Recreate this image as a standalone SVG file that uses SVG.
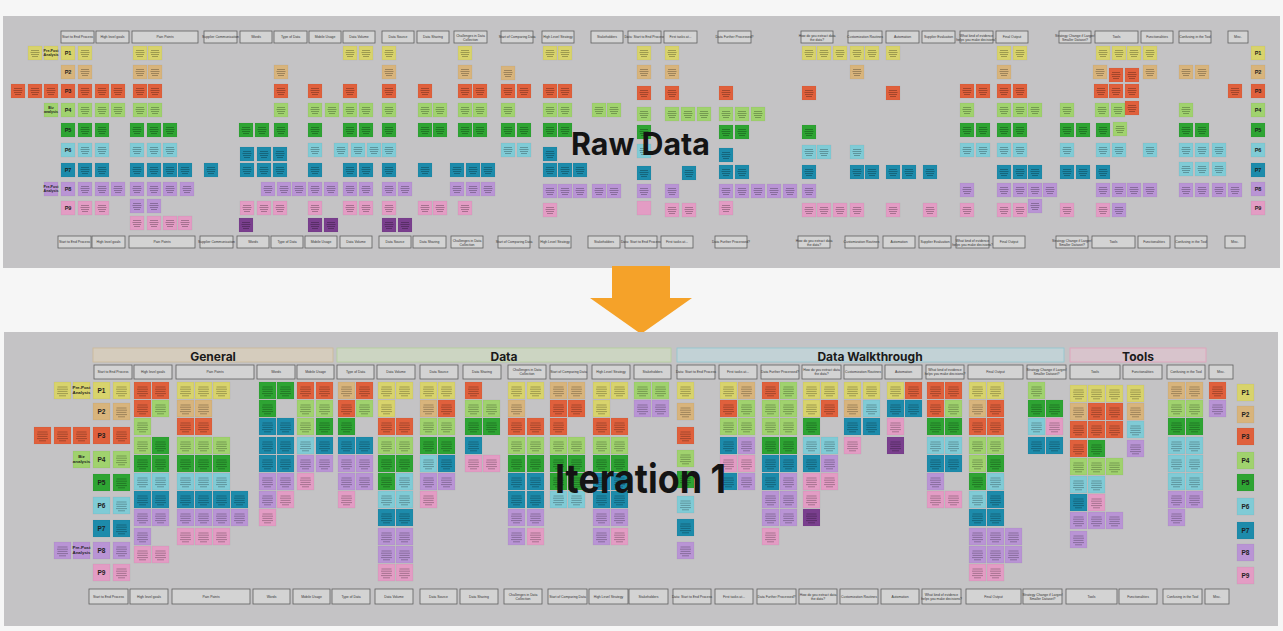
<svg xmlns="http://www.w3.org/2000/svg" xmlns:xlink="http://www.w3.org/1999/xlink" width="1283" height="631" viewBox="0 0 1283 631">
<style>
.Y{fill:#d8d36c}.T{fill:#d8b47c}.R{fill:#e0603c}.L{fill:#a0d26e}.G{fill:#2ea433}.B{fill:#80cbd6}.E{fill:#1d8bab}.V{fill:#b994d5}.K{fill:#e39cc4}.D{fill:#7a3f8e}
.h rect{fill:#d3d3d3;stroke:#5f5f5f;stroke-width:.8}
.h text{font-family:"Liberation Sans",Arial,sans-serif;font-size:3.4px;fill:#333;text-anchor:middle}
.pl{font-family:"Liberation Sans",Arial,sans-serif;font-weight:bold;fill:#1e1e1e;text-anchor:middle}
.nl{font-family:"Liberation Sans",Arial,sans-serif;font-weight:bold;fill:#1e1e1e;text-anchor:middle;font-size:3.6px}
.nb{font-family:"Liberation Sans",Arial,sans-serif;font-weight:bold;fill:#1e1e1e;text-anchor:middle;font-size:4.4px}
.big{font-family:Inter,"Noto Sans","Liberation Sans",sans-serif;font-weight:bold;fill:#141414}
.cat{font-family:Inter,"Noto Sans","Liberation Sans",sans-serif;font-weight:bold;fill:#1a1a1a;font-size:12px;text-anchor:middle}
</style>
<defs>
<g id="a"><rect width="14" height="14" stroke="#000" stroke-opacity=".08" stroke-width=".5"/><path d="M3 4.5h8M2.5 6.5h9M3 8.5h8M4 10.5h6" fill="none" stroke="#000" stroke-opacity=".3" stroke-width=".9"/></g>
<g id="c"><rect width="14" height="14" stroke="#000" stroke-opacity=".08" stroke-width=".5"/></g>
<g id="b"><rect width="17" height="17" stroke="#000" stroke-opacity=".08" stroke-width=".5"/><path d="M3.5 5h10M3 7.2h11M3.5 9.4h10M3 11.6h11M5 13.8h7" fill="none" stroke="#000" stroke-opacity=".3" stroke-width=".9"/></g>
<g id="d"><rect width="17" height="17" stroke="#000" stroke-opacity=".08" stroke-width=".5"/></g>
</defs>
<rect width="1283" height="631" fill="#f6f6f6"/>

<g id="top-panel">
<rect x="3" y="16" width="1277" height="252" fill="#c4c3c5"/>
</g>

<g id="top-headers" class="h">
<rect x="61" y="31" width="33" height="12"/><text x="77.5" y="38.3">Start to End Process</text>
<rect x="96" y="31" width="33" height="12"/><text x="112.5" y="38.3">High level goals</text>
<rect x="132" y="31" width="66" height="12"/><text x="165" y="38.3">Pain Points</text>
<rect x="204" y="31" width="33" height="12"/><text x="220.5" y="38.3">Supplier Communication</text>
<rect x="240" y="31" width="32" height="12"/><text x="256" y="38.3">Words</text>
<rect x="274" y="31" width="33" height="12"/><text x="290.5" y="38.3">Type of Data</text>
<rect x="309" y="31" width="32" height="12"/><text x="325" y="38.3">Mobile Usage</text>
<rect x="343" y="31" width="32" height="12"/><text x="359" y="38.3">Data Volume</text>
<rect x="382" y="31" width="32" height="12"/><text x="398" y="38.3">Data Source</text>
<rect x="417" y="31" width="32" height="12"/><text x="433" y="38.3">Data Sharing</text>
<rect x="454" y="31" width="33" height="12"/><text x="470.5" y="36.6">Challenges in Data<tspan x="470.5" dy="4">Collection</tspan></text>
<rect x="501" y="31" width="32" height="12"/><text x="517" y="38.3">Start of Comparing Data</text>
<rect x="542" y="31" width="32" height="12"/><text x="558" y="38.3">High Level Strategy</text>
<rect x="591" y="31" width="32" height="12"/><text x="607" y="38.3">Stakeholders</text>
<rect x="628" y="31" width="33" height="12"/><text x="644.5" y="38.3">Data: Start to End Process</text>
<rect x="664" y="31" width="33" height="12"/><text x="680.5" y="38.3">First tasks at...</text>
<rect x="718" y="31" width="33" height="12"/><text x="734.5" y="38.3">Data Further Processed?</text>
<rect x="801" y="31" width="32" height="12"/><text x="817" y="36.6">How do you extract data<tspan x="817" dy="4">the data?</tspan></text>
<rect x="848" y="31" width="34" height="12"/><text x="865" y="38.3">Customization Routines</text>
<rect x="886" y="31" width="33" height="12"/><text x="902.5" y="38.3">Automation</text>
<rect x="922" y="31" width="33" height="12"/><text x="938.5" y="38.3">Supplier Evaluation</text>
<rect x="960" y="31" width="33" height="12"/><text x="976.5" y="36.6">What kind of evidence<tspan x="976.5" dy="4">helps you make decisions?</tspan></text>
<rect x="996" y="31" width="32" height="12"/><text x="1012" y="38.3">Final Output</text>
<rect x="1059" y="31" width="32" height="12"/><text x="1075" y="36.6">Strategy Change if Larger/<tspan x="1075" dy="4">Smaller Dataset?</tspan></text>
<rect x="1095" y="31" width="43" height="12"/><text x="1116.5" y="38.3">Tools</text>
<rect x="1141" y="31" width="32" height="12"/><text x="1157" y="38.3">Functionalities</text>
<rect x="1179" y="31" width="32" height="12"/><text x="1195" y="38.3">Confusing in the Tool</text>
<rect x="1228" y="31" width="20" height="12"/><text x="1238" y="38.3">Misc.</text>

<rect x="58" y="236" width="33" height="12"/><text x="74.5" y="243.3">Start to End Process</text>
<rect x="92" y="236" width="33" height="12"/><text x="108.5" y="243.3">High level goals</text>
<rect x="129" y="236" width="66" height="12"/><text x="162" y="243.3">Pain Points</text>
<rect x="200" y="236" width="33" height="12"/><text x="216.5" y="243.3">Supplier Communication</text>
<rect x="237" y="236" width="32" height="12"/><text x="253" y="243.3">Words</text>
<rect x="271" y="236" width="32" height="12"/><text x="287" y="243.3">Type of Data</text>
<rect x="305" y="236" width="32" height="12"/><text x="321" y="243.3">Mobile Usage</text>
<rect x="340" y="236" width="32" height="12"/><text x="356" y="243.3">Data Volume</text>
<rect x="379" y="236" width="32" height="12"/><text x="395" y="243.3">Data Source</text>
<rect x="413" y="236" width="33" height="12"/><text x="429.5" y="243.3">Data Sharing</text>
<rect x="451" y="236" width="32" height="12"/><text x="467" y="241.6">Challenges in Data<tspan x="467" dy="4">Collection</tspan></text>
<rect x="498" y="236" width="32" height="12"/><text x="514" y="243.3">Start of Comparing Data</text>
<rect x="539" y="236" width="32" height="12"/><text x="555" y="243.3">High Level Strategy</text>
<rect x="588" y="236" width="32" height="12"/><text x="604" y="243.3">Stakeholders</text>
<rect x="625" y="236" width="32" height="12"/><text x="641" y="243.3">Data: Start to End Process</text>
<rect x="661" y="236" width="32" height="12"/><text x="677" y="243.3">First tasks at...</text>
<rect x="715" y="236" width="32" height="12"/><text x="731" y="243.3">Data Further Processed?</text>
<rect x="798" y="236" width="32" height="12"/><text x="814" y="241.6">How do you extract data<tspan x="814" dy="4">the data?</tspan></text>
<rect x="845" y="236" width="33" height="12"/><text x="861.5" y="243.3">Customization Routines</text>
<rect x="883" y="236" width="32" height="12"/><text x="899" y="243.3">Automation</text>
<rect x="919" y="236" width="32" height="12"/><text x="935" y="243.3">Supplier Evaluation</text>
<rect x="956" y="236" width="33" height="12"/><text x="972.5" y="241.6">What kind of evidence<tspan x="972.5" dy="4">helps you make decisions?</tspan></text>
<rect x="993" y="236" width="32" height="12"/><text x="1009" y="243.3">Final Output</text>
<rect x="1056" y="236" width="32" height="12"/><text x="1072" y="241.6">Strategy Change if Larger/<tspan x="1072" dy="4">Smaller Dataset?</tspan></text>
<rect x="1092" y="236" width="43" height="12"/><text x="1113.5" y="243.3">Tools</text>
<rect x="1138" y="236" width="32" height="12"/><text x="1154" y="243.3">Functionalities</text>
<rect x="1175" y="236" width="32" height="12"/><text x="1191" y="243.3">Confusing in the Tool</text>
<rect x="1225" y="236" width="20" height="12"/><text x="1235" y="243.3">Misc.</text>
</g>

<g id="top-notes">
<g transform="translate(0,46)">
<use href="#a" x="28" class="Y"/><use href="#c" x="44" class="Y"/><use href="#c" x="61" class="Y"/><use href="#a" x="78" class="Y"/><use href="#a" x="133" class="Y"/><use href="#a" x="148" class="Y"/><use href="#a" x="343" class="Y"/><use href="#a" x="359" class="Y"/><use href="#a" x="382" class="Y"/><use href="#a" x="458" class="Y"/><use href="#a" x="543" class="Y"/><use href="#a" x="558" class="Y"/><use href="#a" x="637" class="Y"/><use href="#a" x="665" class="Y"/><use href="#a" x="802" class="Y"/><use href="#a" x="817" class="Y"/><use href="#a" x="833" class="Y"/><use href="#a" x="850" class="Y"/><use href="#a" x="865" class="Y"/><use href="#a" x="886" class="Y"/><use href="#a" x="997" class="Y"/><use href="#a" x="1013" class="Y"/><use href="#a" x="1096" class="Y"/><use href="#a" x="1112" class="Y"/><use href="#a" x="1127" class="Y"/><use href="#a" x="1143" class="Y"/><use href="#c" x="1251" class="Y"/>
<text class="nl" x="51" y="6">Pre-Post<tspan x="51" dy="4">Analysis</tspan></text><text class="pl" x="68" y="9" font-size="5.5">P1</text><text class="pl" x="1258" y="9" font-size="5.5">P1</text>
</g>
<g transform="translate(0,65)">
<use href="#c" x="61" class="T"/><use href="#a" x="78" class="T"/><use href="#a" x="133" class="T"/><use href="#a" x="148" class="T"/><use href="#a" x="274" class="T"/><use href="#a" x="382" class="T"/><use href="#a" x="458" class="T"/><use href="#a" x="501" y="1" class="T"/><use href="#a" x="637" class="T"/><use href="#a" x="665" class="T"/><use href="#a" x="850" class="T"/><use href="#a" x="997" class="T"/><use href="#a" x="1093" class="T"/><use href="#a" x="1109" y="3" class="R"/><use href="#a" x="1125" y="3" class="R"/><use href="#a" x="1143" class="T"/><use href="#a" x="1179" class="T"/><use href="#a" x="1195" class="T"/><use href="#c" x="1251" class="T"/>
<text class="pl" x="68" y="9" font-size="5.5">P2</text><text class="pl" x="1258" y="9" font-size="5.5">P2</text>
</g>
<g transform="translate(0,84)">
<use href="#a" x="11" class="R"/><use href="#a" x="28" class="R"/><use href="#a" x="44" class="R"/><use href="#c" x="61" class="R"/><use href="#a" x="78" class="R"/><use href="#a" x="95" class="R"/><use href="#a" x="111" class="R"/><use href="#a" x="133" class="R"/><use href="#a" x="148" class="R"/><use href="#a" x="274" class="R"/><use href="#a" x="308" class="R"/><use href="#a" x="343" class="R"/><use href="#a" x="382" class="R"/><use href="#a" x="418" class="R"/><use href="#a" x="458" class="R"/><use href="#a" x="473" class="R"/><use href="#a" x="501" class="R"/><use href="#a" x="517" class="R"/><use href="#a" x="543" class="R"/><use href="#a" x="558" class="R"/><use href="#a" x="637" y="2" class="R"/><use href="#a" x="665" y="2" class="R"/><use href="#a" x="719" y="2" class="R"/><use href="#a" x="802" y="2" class="R"/><use href="#a" x="886" y="2" class="R"/><use href="#a" x="960" class="R"/><use href="#a" x="976" class="R"/><use href="#a" x="997" class="R"/><use href="#a" x="1013" class="R"/><use href="#a" x="1094" class="R"/><use href="#a" x="1109" class="R"/><use href="#a" x="1125" class="R"/><use href="#a" x="1228" class="R"/><use href="#c" x="1251" class="R"/>
<text class="pl" x="68" y="9" font-size="5.5">P3</text><text class="pl" x="1258" y="9" font-size="5.5">P3</text>
</g>
<g transform="translate(0,103)">
<use href="#c" x="44" class="L"/><use href="#c" x="61" class="L"/><use href="#a" x="78" class="L"/><use href="#a" x="95" class="L"/><use href="#a" x="111" class="L"/><use href="#a" x="133" class="L"/><use href="#a" x="148" class="L"/><use href="#a" x="274" class="L"/><use href="#a" x="308" class="L"/><use href="#a" x="325" class="L"/><use href="#a" x="343" class="L"/><use href="#a" x="359" class="L"/><use href="#a" x="382" class="L"/><use href="#a" x="418" class="L"/><use href="#a" x="433" class="L"/><use href="#a" x="458" class="L"/><use href="#a" x="473" class="L"/><use href="#a" x="501" class="L"/><use href="#a" x="543" class="L"/><use href="#a" x="558" class="L"/><use href="#a" x="592" class="L"/><use href="#a" x="607" class="L"/><use href="#a" x="637" y="4" class="L"/><use href="#a" x="665" y="4" class="L"/><use href="#a" x="681" y="4" class="L"/><use href="#a" x="697" y="4" class="L"/><use href="#a" x="719" y="4" class="L"/><use href="#a" x="735" y="4" class="L"/><use href="#a" x="751" y="4" class="L"/><use href="#a" x="960" class="L"/><use href="#a" x="997" class="L"/><use href="#a" x="1013" class="L"/><use href="#a" x="1028" class="L"/><use href="#a" x="1060" class="L"/><use href="#a" x="1095" class="L"/><use href="#a" x="1111" class="L"/><use href="#a" x="1125" y="-2" class="R"/><use href="#a" x="1179" class="L"/><use href="#c" x="1251" class="L"/>
<text class="nl" x="51" y="6">Biz<tspan x="51" dy="4">analysis</tspan></text><text class="pl" x="68" y="9" font-size="5.5">P4</text><text class="pl" x="1258" y="9" font-size="5.5">P4</text>
</g>
<g transform="translate(0,123)">
<use href="#c" x="61" class="G"/><use href="#a" x="78" class="G"/><use href="#a" x="95" class="G"/><use href="#a" x="130" class="G"/><use href="#a" x="147" class="G"/><use href="#a" x="163" class="G"/><use href="#a" x="239" class="G"/><use href="#a" x="255" class="G"/><use href="#a" x="274" class="G"/><use href="#a" x="308" class="G"/><use href="#a" x="343" class="G"/><use href="#a" x="359" class="G"/><use href="#a" x="382" class="G"/><use href="#a" x="418" class="G"/><use href="#a" x="433" class="G"/><use href="#a" x="458" class="G"/><use href="#a" x="473" class="G"/><use href="#a" x="501" class="G"/><use href="#a" x="517" class="G"/><use href="#a" x="543" class="G"/><use href="#a" x="558" class="G"/><use href="#a" x="637" y="2" class="G"/><use href="#a" x="719" y="2" class="G"/><use href="#a" x="735" y="2" class="G"/><use href="#a" x="802" y="2" class="G"/><use href="#a" x="960" class="G"/><use href="#a" x="976" class="G"/><use href="#a" x="997" class="G"/><use href="#a" x="1013" class="G"/><use href="#a" x="1060" class="G"/><use href="#a" x="1076" class="G"/><use href="#a" x="1096" class="G"/><use href="#a" x="1113" y="-1" class="L"/><use href="#a" x="1179" class="G"/><use href="#a" x="1195" class="G"/><use href="#c" x="1251" class="G"/>
<text class="pl" x="68" y="9" font-size="5.5">P5</text><text class="pl" x="1258" y="9" font-size="5.5">P5</text>
</g>
<g transform="translate(0,143)">
<use href="#c" x="61" class="B"/><use href="#a" x="78" class="B"/><use href="#a" x="95" class="B"/><use href="#a" x="130" class="B"/><use href="#a" x="147" class="B"/><use href="#a" x="163" class="B"/><use href="#a" x="240" y="4" class="E"/><use href="#a" x="257" y="4" class="E"/><use href="#a" x="273" y="4" class="E"/><use href="#a" x="308" class="B"/><use href="#a" x="334" class="B"/><use href="#a" x="351" class="B"/><use href="#a" x="367" class="B"/><use href="#a" x="382" class="B"/><use href="#a" x="501" class="B"/><use href="#a" x="517" class="B"/><use href="#a" x="543" y="4" class="E"/><use href="#a" x="637" y="1" class="B"/><use href="#a" x="719" y="5" class="E"/><use href="#a" x="802" y="2" class="B"/><use href="#a" x="817" y="2" class="B"/><use href="#a" x="850" y="2" class="B"/><use href="#a" x="960" class="B"/><use href="#a" x="976" class="B"/><use href="#a" x="997" class="B"/><use href="#a" x="1013" class="B"/><use href="#a" x="1060" class="B"/><use href="#a" x="1096" class="B"/><use href="#a" x="1112" class="B"/><use href="#a" x="1143" class="B"/><use href="#a" x="1179" class="B"/><use href="#a" x="1195" class="B"/><use href="#a" x="1212" class="B"/><use href="#c" x="1251" class="B"/>
<text class="pl" x="68" y="9" font-size="5.5">P6</text><text class="pl" x="1258" y="9" font-size="5.5">P6</text>
</g>
<g transform="translate(0,163)">
<use href="#c" x="61" class="E"/><use href="#a" x="78" class="E"/><use href="#a" x="95" class="E"/><use href="#a" x="130" class="E"/><use href="#a" x="147" class="E"/><use href="#a" x="163" class="E"/><use href="#a" x="178" class="E"/><use href="#a" x="204" class="E"/><use href="#a" x="240" class="E"/><use href="#a" x="257" class="E"/><use href="#a" x="273" class="E"/><use href="#a" x="308" class="E"/><use href="#a" x="343" class="E"/><use href="#a" x="359" class="E"/><use href="#a" x="382" class="E"/><use href="#a" x="418" class="E"/><use href="#a" x="450" class="E"/><use href="#a" x="466" class="E"/><use href="#a" x="481" class="E"/><use href="#a" x="543" class="E"/><use href="#a" x="558" class="E"/><use href="#a" x="573" class="E"/><use href="#a" x="637" y="3" class="E"/><use href="#a" x="682" y="3" class="E"/><use href="#a" x="719" y="2" class="E"/><use href="#a" x="735" y="2" class="E"/><use href="#a" x="802" y="2" class="E"/><use href="#a" x="850" y="2" class="E"/><use href="#a" x="865" y="2" class="E"/><use href="#a" x="886" y="2" class="E"/><use href="#a" x="902" y="2" class="E"/><use href="#a" x="923" y="2" class="E"/><use href="#a" x="997" y="2" class="E"/><use href="#a" x="1013" y="2" class="E"/><use href="#a" x="1028" y="2" class="E"/><use href="#a" x="1060" y="2" class="E"/><use href="#a" x="1076" y="2" class="E"/><use href="#a" x="1096" y="2" class="E"/><use href="#a" x="1179" y="-1" class="B"/><use href="#a" x="1195" y="-1" class="B"/><use href="#a" x="1212" y="-1" class="B"/><use href="#c" x="1251" class="E"/>
<text class="pl" x="68" y="9" font-size="5.5">P7</text><text class="pl" x="1258" y="9" font-size="5.5">P7</text>
</g>
<g transform="translate(0,182)">
<use href="#c" x="44" class="V"/><use href="#c" x="61" class="V"/><use href="#a" x="78" class="V"/><use href="#a" x="95" class="V"/><use href="#a" x="111" class="V"/><use href="#a" x="130" class="V"/><use href="#a" x="147" class="V"/><use href="#a" x="163" class="V"/><use href="#a" x="180" class="V"/><use href="#a" x="261" class="V"/><use href="#a" x="277" class="V"/><use href="#a" x="292" class="V"/><use href="#a" x="308" class="V"/><use href="#a" x="324" class="V"/><use href="#a" x="343" class="V"/><use href="#a" x="359" class="V"/><use href="#a" x="382" class="V"/><use href="#a" x="398" class="V"/><use href="#a" x="450" class="V"/><use href="#a" x="466" class="V"/><use href="#a" x="481" class="V"/><use href="#a" x="543" y="2" class="V"/><use href="#a" x="558" y="2" class="V"/><use href="#a" x="573" y="2" class="V"/><use href="#a" x="592" y="2" class="V"/><use href="#a" x="607" y="2" class="V"/><use href="#a" x="637" y="2" class="V"/><use href="#a" x="665" y="2" class="V"/><use href="#a" x="719" y="2" class="V"/><use href="#a" x="735" y="2" class="V"/><use href="#a" x="751" y="2" class="V"/><use href="#a" x="767" y="2" class="V"/><use href="#a" x="783" y="2" class="V"/><use href="#a" x="802" y="2" class="V"/><use href="#a" x="960" y="1" class="V"/><use href="#a" x="997" y="1" class="V"/><use href="#a" x="1013" y="1" class="V"/><use href="#a" x="1028" y="1" class="V"/><use href="#a" x="1043" y="1" class="V"/><use href="#a" x="1096" y="1" class="V"/><use href="#a" x="1112" y="1" class="V"/><use href="#a" x="1127" y="1" class="V"/><use href="#a" x="1143" y="1" class="V"/><use href="#a" x="1179" y="1" class="V"/><use href="#a" x="1195" y="1" class="V"/><use href="#a" x="1212" y="1" class="V"/><use href="#a" x="1228" y="1" class="V"/><use href="#c" x="1251" class="V"/>
<text class="nl" x="51" y="6">Pre-Post<tspan x="51" dy="4">Analysis</tspan></text><text class="pl" x="68" y="9" font-size="5.5">P8</text><text class="pl" x="1258" y="9" font-size="5.5">P8</text>
</g>
<g transform="translate(0,201)">
<use href="#c" x="61" class="K"/><use href="#a" x="78" class="K"/><use href="#a" x="95" class="K"/><use href="#a" x="130" y="-2" class="V"/><use href="#a" x="147" y="-2" class="V"/><use href="#a" x="240" class="K"/><use href="#a" x="257" class="K"/><use href="#a" x="273" class="K"/><use href="#a" x="308" class="K"/><use href="#a" x="343" class="K"/><use href="#a" x="359" class="K"/><use href="#a" x="382" class="K"/><use href="#a" x="418" class="K"/><use href="#a" x="433" class="K"/><use href="#a" x="458" class="K"/><use href="#a" x="543" y="2" class="K"/><use href="#c" x="637" class="K"/><use href="#a" x="665" y="2" class="K"/><use href="#a" x="682" y="2" class="K"/><use href="#a" x="719" class="K"/><use href="#a" x="802" y="2" class="K"/><use href="#a" x="817" y="2" class="K"/><use href="#a" x="833" y="2" class="K"/><use href="#a" x="850" y="2" class="K"/><use href="#a" x="886" y="2" class="K"/><use href="#a" x="923" y="2" class="K"/><use href="#a" x="960" y="2" class="K"/><use href="#a" x="997" y="2" class="K"/><use href="#a" x="1013" y="2" class="K"/><use href="#a" x="1028" y="-2" class="V"/><use href="#a" x="1060" y="2" class="K"/><use href="#a" x="1096" y="2" class="K"/><use href="#a" x="1112" y="2" class="V"/><use href="#c" x="1251" class="K"/>
<text class="pl" x="68" y="9" font-size="5.5">P9</text><text class="pl" x="1258" y="9" font-size="5.5">P9</text>
</g>
<g transform="translate(0,216)">
<use href="#a" x="130" class="K"/><use href="#a" x="147" class="K"/><use href="#a" x="163" class="K"/><use href="#a" x="178" class="K"/>
<use href="#a" x="239" y="2" class="D"/><use href="#a" x="308" y="2" class="D"/><use href="#a" x="324" y="2" class="D"/><use href="#a" x="382" y="2" class="D"/><use href="#a" x="398" y="2" class="D"/>
</g>
</g>
<text class="big" x="571" y="155" font-size="31" textLength="139" lengthAdjust="spacingAndGlyphs">Raw Data</text>

<g id="arrow">
<polygon points="612,266 670,266 670,298 692,298 641,334 590,298 612,298" fill="#f5a229"/>
</g>

<g id="bottom-panel">
<rect x="4" y="332" width="1274" height="294" fill="#c4c3c5"/>
<rect x="93" y="348" width="240" height="14" fill="#d5ccbd" stroke="#cbb897" stroke-width=".8"/>
<rect x="337" y="348" width="334" height="14" fill="#ccd5c2" stroke="#b3d09a" stroke-width=".8"/>
<rect x="677" y="348" width="387" height="14" fill="#c2d2d6" stroke="#8ec6d0" stroke-width=".8"/>
<rect x="1070" y="348" width="136" height="14" fill="#d8c4cc" stroke="#e39fba" stroke-width=".8"/>
<text class="cat" x="213" y="360.5">General</text>
<text class="cat" x="504" y="360.5">Data</text>
<text class="cat" x="870" y="360.5">Data Walkthrough</text>
<text class="cat" x="1138" y="360.5">Tools</text>
</g>

<g id="bottom-headers" class="h">
<rect x="94" y="365" width="38" height="14"/><text x="113" y="373.3">Start to End Process</text>
<rect x="134" y="365" width="38" height="14"/><text x="153" y="373.3">High level goals</text>
<rect x="176" y="365" width="78" height="14"/><text x="215" y="373.3">Pain Points</text>
<rect x="257" y="365" width="38" height="14"/><text x="276" y="373.3">Words</text>
<rect x="297" y="365" width="37" height="14"/><text x="315.5" y="373.3">Mobile Usage</text>
<rect x="337" y="365" width="37" height="14"/><text x="355.5" y="373.3">Type of Data</text>
<rect x="377" y="365" width="38" height="14"/><text x="396" y="373.3">Data Volume</text>
<rect x="420" y="365" width="38" height="14"/><text x="439" y="373.3">Data Source</text>
<rect x="463" y="365" width="38" height="14"/><text x="482" y="373.3">Data Sharing</text>
<rect x="508" y="365" width="38" height="14"/><text x="527" y="371.4">Challenges in Data<tspan x="527" dy="4">Collection</tspan></text>
<rect x="550" y="365" width="37" height="14"/><text x="568.5" y="373.3">Start of Comparing Data</text>
<rect x="592" y="365" width="38" height="14"/><text x="611" y="373.3">High Level Strategy</text>
<rect x="634" y="365" width="37" height="14"/><text x="652.5" y="373.3">Stakeholders</text>
<rect x="677" y="365" width="38" height="14"/><text x="696" y="373.3">Data: Start to End Process</text>
<rect x="719" y="365" width="38" height="14"/><text x="738" y="373.3">First tasks at...</text>
<rect x="761" y="365" width="38" height="14"/><text x="780" y="373.3">Data Further Processed?</text>
<rect x="802" y="365" width="39" height="14"/><text x="821.5" y="371.4">How do you extract data<tspan x="821.5" dy="4">the data?</tspan></text>
<rect x="844" y="365" width="38" height="14"/><text x="863" y="373.3">Customization Routines</text>
<rect x="885" y="365" width="37" height="14"/><text x="903.5" y="373.3">Automation</text>
<rect x="926" y="365" width="38" height="14"/><text x="945" y="371.4">What kind of evidence<tspan x="945" dy="4">helps you make decisions?</tspan></text>
<rect x="968" y="365" width="55" height="14"/><text x="995.5" y="373.3">Final Output</text>
<rect x="1027" y="365" width="39" height="14"/><text x="1046.5" y="371.4">Strategy Change if Larger/<tspan x="1046.5" dy="4">Smaller Dataset?</tspan></text>
<rect x="1070" y="365" width="50" height="14"/><text x="1095" y="373.3">Tools</text>
<rect x="1123" y="365" width="39" height="14"/><text x="1142.5" y="373.3">Functionalities</text>
<rect x="1167" y="365" width="38" height="14"/><text x="1186" y="373.3">Confusing in the Tool</text>
<rect x="1209" y="365" width="24" height="14"/><text x="1221" y="373.3">Misc.</text>

<rect x="89" y="589" width="39" height="15"/><text x="108.5" y="597.8">Start to End Process</text>
<rect x="130" y="589" width="38" height="15"/><text x="149" y="597.8">High level goals</text>
<rect x="172" y="589" width="78" height="15"/><text x="211" y="597.8">Pain Points</text>
<rect x="253" y="589" width="37" height="15"/><text x="271.5" y="597.8">Words</text>
<rect x="293" y="589" width="37" height="15"/><text x="311.5" y="597.8">Mobile Usage</text>
<rect x="332" y="589" width="38" height="15"/><text x="351" y="597.8">Type of Data</text>
<rect x="375" y="589" width="38" height="15"/><text x="394" y="597.8">Data Volume</text>
<rect x="420" y="589" width="37" height="15"/><text x="438.5" y="597.8">Data Source</text>
<rect x="460" y="589" width="38" height="15"/><text x="479" y="597.8">Data Sharing</text>
<rect x="504" y="589" width="38" height="15"/><text x="523" y="595.8">Challenges in Data<tspan x="523" dy="4">Collection</tspan></text>
<rect x="548" y="589" width="39" height="15"/><text x="567.5" y="597.8">Start of Comparing Data</text>
<rect x="589" y="589" width="39" height="15"/><text x="608.5" y="597.8">High Level Strategy</text>
<rect x="629" y="589" width="39" height="15"/><text x="648.5" y="597.8">Stakeholders</text>
<rect x="673" y="589" width="38" height="15"/><text x="692" y="597.8">Data: Start to End Process</text>
<rect x="715" y="589" width="38" height="15"/><text x="734" y="597.8">First tasks at...</text>
<rect x="757" y="589" width="39" height="15"/><text x="776.5" y="597.8">Data Further Processed?</text>
<rect x="799" y="589" width="38" height="15"/><text x="818" y="595.8">How do you extract data<tspan x="818" dy="4">the data?</tspan></text>
<rect x="840" y="589" width="38" height="15"/><text x="859" y="597.8">Customization Routines</text>
<rect x="881" y="589" width="38" height="15"/><text x="900" y="597.8">Automation</text>
<rect x="922" y="589" width="39" height="15"/><text x="941.5" y="595.8">What kind of evidence<tspan x="941.5" dy="4">helps you make decisions?</tspan></text>
<rect x="966" y="589" width="55" height="15"/><text x="993.5" y="597.8">Final Output</text>
<rect x="1023" y="589" width="39" height="15"/><text x="1042.5" y="595.8">Strategy Change if Larger/<tspan x="1042.5" dy="4">Smaller Dataset?</tspan></text>
<rect x="1066" y="589" width="51" height="15"/><text x="1091.5" y="597.8">Tools</text>
<rect x="1119" y="589" width="38" height="15"/><text x="1138" y="597.8">Functionalities</text>
<rect x="1163" y="589" width="39" height="15"/><text x="1182.5" y="597.8">Confusing in the Tool</text>
<rect x="1205" y="589" width="24" height="15"/><text x="1217" y="597.8">Misc.</text>
</g>

<g id="bottom-notes">
<g id="left-extras">
<use href="#b" x="54" y="382" class="Y"/><use href="#d" x="73" y="382" class="Y"/>
<use href="#b" x="34" y="427" class="R"/><use href="#b" x="54" y="427" class="R"/><use href="#b" x="73" y="427" class="R"/>
<use href="#d" x="73" y="451" class="L"/>
<use href="#b" x="54" y="542" class="V"/><use href="#d" x="73" y="542" class="V"/>
<text class="nb" x="81.5" y="389">Pre-Post<tspan x="81.5" dy="4.6">Analysis</tspan></text>
<text class="nb" x="81.5" y="458">Biz<tspan x="81.5" dy="4.6">analysis</tspan></text>
<text class="nb" x="81.5" y="549">Pre-Post<tspan x="81.5" dy="4.6">Analysis</tspan></text>
</g>
<g id="p-left">
<use href="#d" x="93" y="382" class="Y"/><use href="#d" x="93" y="403" class="T"/><use href="#d" x="93" y="427" class="R"/><use href="#d" x="93" y="451" class="L"/><use href="#d" x="93" y="474" class="G"/><use href="#d" x="93" y="497" class="B"/><use href="#d" x="93" y="520" class="E"/><use href="#d" x="93" y="542" class="V"/><use href="#d" x="93" y="564" class="K"/>
<text class="pl" font-size="6.5" x="101.5" y="393">P1</text><text class="pl" font-size="6.5" x="101.5" y="414">P2</text><text class="pl" font-size="6.5" x="101.5" y="438">P3</text><text class="pl" font-size="6.5" x="101.5" y="462">P4</text><text class="pl" font-size="6.5" x="101.5" y="485">P5</text><text class="pl" font-size="6.5" x="101.5" y="508">P6</text><text class="pl" font-size="6.5" x="101.5" y="531">P7</text><text class="pl" font-size="6.5" x="101.5" y="553">P8</text><text class="pl" font-size="6.5" x="101.5" y="575">P9</text>
</g>
<g id="p-right">
<use href="#d" x="1237" y="384" class="Y"/><use href="#d" x="1237" y="406" class="T"/><use href="#d" x="1237" y="428" class="R"/><use href="#d" x="1237" y="452" class="L"/><use href="#d" x="1237" y="474" class="G"/><use href="#d" x="1237" y="498" class="B"/><use href="#d" x="1237" y="522" class="E"/><use href="#d" x="1237" y="544" class="V"/><use href="#d" x="1237" y="567" class="K"/>
<text class="pl" font-size="6.5" x="1245.5" y="395">P1</text><text class="pl" font-size="6.5" x="1245.5" y="417">P2</text><text class="pl" font-size="6.5" x="1245.5" y="439">P3</text><text class="pl" font-size="6.5" x="1245.5" y="463">P4</text><text class="pl" font-size="6.5" x="1245.5" y="485">P5</text><text class="pl" font-size="6.5" x="1245.5" y="509">P6</text><text class="pl" font-size="6.5" x="1245.5" y="533">P7</text><text class="pl" font-size="6.5" x="1245.5" y="555">P8</text><text class="pl" font-size="6.5" x="1245.5" y="578">P9</text>
</g>
<g id="col-start">
<use href="#b" x="113" y="382" class="Y"/><use href="#b" x="113" y="403" class="T"/><use href="#b" x="113" y="427" class="R"/><use href="#b" x="113" y="451" class="L"/><use href="#b" x="113" y="474" class="G"/><use href="#b" x="113" y="497" class="B"/><use href="#b" x="113" y="520" class="E"/><use href="#b" x="113" y="542" class="V"/><use href="#b" x="113" y="564" class="K"/>
</g>
<g id="col-goals">
<use href="#b" x="134" y="382" class="R"/><use href="#b" x="134" y="400" class="R"/><use href="#b" x="134" y="418" class="L"/><use href="#b" x="134" y="437" class="L"/><use href="#b" x="134" y="455" class="G"/><use href="#b" x="134" y="473" class="B"/><use href="#b" x="134" y="491" class="E"/><use href="#b" x="134" y="509" class="V"/><use href="#b" x="134" y="528" class="V"/><use href="#b" x="134" y="546" class="K"/>
<use href="#b" x="152" y="382" class="R"/><use href="#b" x="152" y="400" class="L"/><use href="#b" x="152" y="437" class="G"/><use href="#b" x="152" y="455" class="G"/><use href="#b" x="152" y="473" class="B"/><use href="#b" x="152" y="491" class="E"/><use href="#b" x="152" y="509" class="V"/><use href="#b" x="152" y="546" class="K"/>
</g>
<g id="col-pain">
<use href="#b" x="177" y="382" class="Y"/><use href="#b" x="177" y="400" class="T"/><use href="#b" x="177" y="418" class="R"/><use href="#b" x="177" y="437" class="L"/><use href="#b" x="177" y="455" class="G"/><use href="#b" x="177" y="473" class="B"/><use href="#b" x="177" y="491" class="E"/><use href="#b" x="177" y="509" class="V"/><use href="#b" x="177" y="528" class="K"/>
<use href="#b" x="195" y="382" class="Y"/><use href="#b" x="195" y="400" class="T"/><use href="#b" x="195" y="418" class="R"/><use href="#b" x="195" y="437" class="L"/><use href="#b" x="195" y="455" class="G"/><use href="#b" x="195" y="473" class="B"/><use href="#b" x="195" y="491" class="E"/><use href="#b" x="195" y="509" class="V"/><use href="#b" x="195" y="528" class="K"/>
<use href="#b" x="213" y="382" class="Y"/><use href="#b" x="213" y="437" class="L"/><use href="#b" x="213" y="455" class="G"/><use href="#b" x="213" y="473" class="B"/><use href="#b" x="213" y="491" class="E"/><use href="#b" x="213" y="509" class="V"/><use href="#b" x="213" y="528" class="K"/>
<use href="#b" x="231" y="491" class="E"/><use href="#b" x="231" y="509" class="V"/>
</g>
<g id="col-words">
<use href="#b" x="259" y="382" class="G"/><use href="#b" x="259" y="400" class="G"/><use href="#b" x="259" y="418" class="E"/><use href="#b" x="259" y="437" class="E"/><use href="#b" x="259" y="455" class="E"/><use href="#b" x="259" y="473" class="V"/><use href="#b" x="259" y="491" class="V"/><use href="#b" x="259" y="509" class="K"/>
<use href="#b" x="277" y="382" class="G"/><use href="#b" x="277" y="418" class="E"/><use href="#b" x="277" y="437" class="E"/><use href="#b" x="277" y="455" class="E"/><use href="#b" x="277" y="473" class="V"/><use href="#b" x="277" y="491" class="K"/>
</g>
<g id="col-mobile">
<use href="#b" x="297" y="382" class="R"/><use href="#b" x="297" y="400" class="L"/><use href="#b" x="297" y="418" class="L"/><use href="#b" x="297" y="437" class="B"/><use href="#b" x="297" y="455" class="V"/><use href="#b" x="297" y="473" class="K"/>
<use href="#b" x="316" y="382" class="R"/><use href="#b" x="316" y="400" class="L"/><use href="#b" x="316" y="418" class="G"/><use href="#b" x="316" y="437" class="E"/><use href="#b" x="316" y="455" class="V"/>
</g>
<g id="col-type">
<use href="#b" x="338" y="382" class="T"/><use href="#b" x="338" y="400" class="R"/><use href="#b" x="338" y="418" class="G"/><use href="#b" x="338" y="437" class="E"/><use href="#b" x="338" y="455" class="V"/><use href="#b" x="338" y="473" class="V"/><use href="#b" x="338" y="491" class="K"/>
<use href="#b" x="356" y="382" class="R"/><use href="#b" x="356" y="400" class="L"/><use href="#b" x="356" y="437" class="E"/><use href="#b" x="356" y="455" class="V"/><use href="#b" x="356" y="473" class="V"/>
</g>
<g id="col-volume">
<use href="#b" x="378" y="382" class="Y"/><use href="#b" x="378" y="400" class="Y"/><use href="#b" x="378" y="418" class="R"/><use href="#b" x="378" y="437" class="L"/><use href="#b" x="378" y="455" class="G"/><use href="#b" x="378" y="473" class="G"/><use href="#b" x="378" y="491" class="B"/><use href="#b" x="378" y="509" class="E"/><use href="#b" x="378" y="528" class="V"/><use href="#b" x="378" y="546" class="V"/><use href="#b" x="378" y="564" class="K"/>
<use href="#b" x="396" y="382" class="Y"/><use href="#b" x="396" y="418" class="R"/><use href="#b" x="396" y="437" class="L"/><use href="#b" x="396" y="455" class="G"/><use href="#b" x="396" y="473" class="B"/><use href="#b" x="396" y="491" class="B"/><use href="#b" x="396" y="509" class="E"/><use href="#b" x="396" y="528" class="V"/><use href="#b" x="396" y="546" class="V"/><use href="#b" x="396" y="564" class="K"/>
</g>
<g id="col-source">
<use href="#b" x="420" y="382" class="Y"/><use href="#b" x="420" y="400" class="T"/><use href="#b" x="420" y="418" class="L"/><use href="#b" x="420" y="437" class="G"/><use href="#b" x="420" y="455" class="B"/><use href="#b" x="420" y="473" class="V"/><use href="#b" x="420" y="491" class="K"/>
<use href="#b" x="438" y="382" class="Y"/><use href="#b" x="438" y="400" class="R"/><use href="#b" x="438" y="418" class="L"/><use href="#b" x="438" y="437" class="G"/><use href="#b" x="438" y="455" class="E"/><use href="#b" x="438" y="473" class="V"/>
</g>
<g id="col-sharing">
<use href="#b" x="465" y="382" class="R"/><use href="#b" x="465" y="400" class="L"/><use href="#b" x="465" y="418" class="G"/><use href="#b" x="465" y="437" class="E"/><use href="#b" x="465" y="455" class="K"/>
<use href="#b" x="483" y="400" class="L"/><use href="#b" x="483" y="418" class="G"/><use href="#b" x="483" y="455" class="K"/>
</g>
<g id="col-challenges">
<use href="#b" x="508" y="382" class="Y"/><use href="#b" x="508" y="400" class="T"/><use href="#b" x="508" y="418" class="R"/><use href="#b" x="508" y="437" class="L"/><use href="#b" x="508" y="455" class="G"/><use href="#b" x="508" y="473" class="E"/><use href="#b" x="508" y="491" class="E"/><use href="#b" x="508" y="509" class="V"/><use href="#b" x="508" y="528" class="V"/>
<use href="#b" x="527" y="382" class="Y"/><use href="#b" x="527" y="418" class="R"/><use href="#b" x="527" y="437" class="L"/><use href="#b" x="527" y="455" class="G"/><use href="#b" x="527" y="473" class="E"/><use href="#b" x="527" y="491" class="E"/><use href="#b" x="527" y="509" class="V"/><use href="#b" x="527" y="528" class="K"/>
</g>
<g id="col-comparing">
<use href="#b" x="550" y="382" class="T"/><use href="#b" x="550" y="400" class="R"/><use href="#b" x="550" y="418" class="R"/><use href="#b" x="550" y="437" class="L"/><use href="#b" x="550" y="455" class="G"/><use href="#b" x="550" y="473" class="G"/><use href="#b" x="550" y="491" class="B"/>
<use href="#b" x="568" y="382" class="T"/><use href="#b" x="568" y="400" class="R"/><use href="#b" x="568" y="437" class="L"/><use href="#b" x="568" y="455" class="G"/><use href="#b" x="568" y="473" class="G"/><use href="#b" x="568" y="491" class="B"/>
</g>
<g id="col-strategy">
<use href="#b" x="593" y="382" class="Y"/><use href="#b" x="593" y="400" class="Y"/><use href="#b" x="593" y="418" class="R"/><use href="#b" x="593" y="437" class="L"/><use href="#b" x="593" y="455" class="G"/><use href="#b" x="593" y="473" class="E"/><use href="#b" x="593" y="491" class="E"/><use href="#b" x="593" y="509" class="V"/><use href="#b" x="593" y="528" class="V"/>
<use href="#b" x="611" y="382" class="Y"/><use href="#b" x="611" y="418" class="R"/><use href="#b" x="611" y="437" class="L"/><use href="#b" x="611" y="455" class="G"/><use href="#b" x="611" y="473" class="E"/><use href="#b" x="611" y="491" class="E"/><use href="#b" x="611" y="509" class="V"/><use href="#b" x="611" y="528" class="K"/>
</g>
<g id="col-stakeholders">
<use href="#b" x="634" y="382" class="L"/><use href="#b" x="634" y="400" class="V"/><use href="#b" x="652" y="382" class="L"/><use href="#b" x="652" y="400" class="V"/>
</g>
<g id="col-data-start">
<use href="#b" x="677" y="382" class="Y"/><use href="#b" x="677" y="403" class="T"/><use href="#b" x="677" y="427" class="R"/><use href="#b" x="677" y="450" class="L"/><use href="#b" x="677" y="471" class="G"/><use href="#b" x="677" y="496" class="B"/><use href="#b" x="677" y="519" class="E"/><use href="#b" x="677" y="542" class="V"/>
</g>
<g id="col-first">
<use href="#b" x="720" y="382" class="Y"/><use href="#b" x="720" y="400" class="R"/><use href="#b" x="720" y="418" class="L"/><use href="#b" x="720" y="437" class="E"/><use href="#b" x="720" y="455" class="K"/><use href="#b" x="720" y="473" class="E"/>
<use href="#b" x="738" y="382" class="T"/><use href="#b" x="738" y="400" class="L"/><use href="#b" x="738" y="418" class="L"/><use href="#b" x="738" y="437" class="V"/><use href="#b" x="738" y="455" class="K"/><use href="#b" x="738" y="473" class="V"/>
</g>
<g id="col-further">
<use href="#b" x="762" y="382" class="R"/><use href="#b" x="762" y="400" class="L"/><use href="#b" x="762" y="418" class="L"/><use href="#b" x="762" y="437" class="G"/><use href="#b" x="762" y="455" class="E"/><use href="#b" x="762" y="473" class="E"/><use href="#b" x="762" y="491" class="V"/><use href="#b" x="762" y="509" class="V"/><use href="#b" x="762" y="528" class="K"/>
<use href="#b" x="780" y="382" class="L"/><use href="#b" x="780" y="400" class="L"/><use href="#b" x="780" y="418" class="L"/><use href="#b" x="780" y="437" class="G"/><use href="#b" x="780" y="455" class="E"/><use href="#b" x="780" y="473" class="V"/><use href="#b" x="780" y="491" class="V"/><use href="#b" x="780" y="509" class="V"/>
</g>
<g id="col-extract">
<use href="#b" x="803" y="382" class="Y"/><use href="#b" x="803" y="400" class="Y"/><use href="#b" x="803" y="418" class="G"/><use href="#b" x="803" y="437" class="B"/><use href="#b" x="803" y="455" class="E"/><use href="#b" x="803" y="473" class="K"/><use href="#b" x="803" y="491" class="K"/><use href="#b" x="803" y="509" class="D"/>
<use href="#b" x="821" y="382" class="Y"/><use href="#b" x="821" y="400" class="R"/><use href="#b" x="821" y="437" class="B"/><use href="#b" x="821" y="455" class="V"/><use href="#b" x="821" y="473" class="K"/>
</g>
<g id="col-custom">
<use href="#b" x="844" y="382" class="Y"/><use href="#b" x="844" y="400" class="T"/><use href="#b" x="844" y="418" class="E"/><use href="#b" x="844" y="437" class="K"/>
<use href="#b" x="863" y="382" class="Y"/><use href="#b" x="863" y="400" class="B"/><use href="#b" x="863" y="418" class="E"/>
</g>
<g id="col-auto">
<use href="#b" x="887" y="382" class="Y"/><use href="#b" x="887" y="400" class="E"/><use href="#b" x="887" y="418" class="K"/><use href="#b" x="887" y="437" class="D"/>
<use href="#b" x="905" y="382" class="R"/><use href="#b" x="905" y="400" class="E"/>
</g>
<g id="col-evidence">
<use href="#b" x="927" y="382" class="R"/><use href="#b" x="927" y="400" class="R"/><use href="#b" x="927" y="418" class="G"/><use href="#b" x="927" y="437" class="B"/><use href="#b" x="927" y="455" class="E"/><use href="#b" x="927" y="473" class="V"/><use href="#b" x="927" y="491" class="K"/>
<use href="#b" x="945" y="382" class="R"/><use href="#b" x="945" y="400" class="L"/><use href="#b" x="945" y="418" class="G"/><use href="#b" x="945" y="437" class="B"/><use href="#b" x="945" y="455" class="E"/><use href="#b" x="945" y="491" class="K"/>
</g>
<g id="col-final">
<use href="#b" x="969" y="382" class="Y"/><use href="#b" x="969" y="400" class="T"/><use href="#b" x="969" y="418" class="R"/><use href="#b" x="969" y="437" class="L"/><use href="#b" x="969" y="455" class="L"/><use href="#b" x="969" y="473" class="G"/><use href="#b" x="969" y="491" class="B"/><use href="#b" x="969" y="509" class="E"/><use href="#b" x="969" y="528" class="V"/><use href="#b" x="969" y="546" class="V"/><use href="#b" x="969" y="564" class="K"/>
<use href="#b" x="987" y="382" class="Y"/><use href="#b" x="987" y="400" class="R"/><use href="#b" x="987" y="418" class="R"/><use href="#b" x="987" y="437" class="L"/><use href="#b" x="987" y="455" class="G"/><use href="#b" x="987" y="473" class="B"/><use href="#b" x="987" y="491" class="E"/><use href="#b" x="987" y="509" class="E"/><use href="#b" x="987" y="528" class="V"/><use href="#b" x="987" y="546" class="V"/><use href="#b" x="987" y="564" class="K"/>
<use href="#b" x="1005" y="528" class="V"/><use href="#b" x="1005" y="546" class="V"/>
</g>
<g id="col-change">
<use href="#b" x="1028" y="382" class="L"/><use href="#b" x="1028" y="400" class="G"/><use href="#b" x="1028" y="418" class="B"/><use href="#b" x="1028" y="437" class="E"/>
<use href="#b" x="1046" y="400" class="G"/><use href="#b" x="1046" y="418" class="K"/><use href="#b" x="1046" y="437" class="E"/>
</g>
<g id="col-tools">
<use href="#b" x="1070" y="385" class="Y"/><use href="#b" x="1070" y="403" class="T"/><use href="#b" x="1070" y="421" class="R"/><use href="#b" x="1070" y="440" class="R"/><use href="#b" x="1070" y="458" class="L"/><use href="#b" x="1070" y="476" class="B"/><use href="#b" x="1070" y="494" class="E"/><use href="#b" x="1070" y="512" class="V"/><use href="#b" x="1070" y="531" class="V"/>
<use href="#b" x="1088" y="385" class="Y"/><use href="#b" x="1088" y="403" class="R"/><use href="#b" x="1088" y="421" class="R"/><use href="#b" x="1088" y="440" class="G"/><use href="#b" x="1088" y="458" class="L"/><use href="#b" x="1088" y="476" class="B"/><use href="#b" x="1088" y="494" class="K"/><use href="#b" x="1088" y="512" class="V"/>
<use href="#b" x="1106" y="385" class="Y"/><use href="#b" x="1106" y="403" class="R"/><use href="#b" x="1106" y="421" class="R"/><use href="#b" x="1106" y="458" class="L"/><use href="#b" x="1106" y="512" class="V"/>
</g>
<g id="col-func">
<use href="#b" x="1127" y="385" class="Y"/><use href="#b" x="1127" y="403" class="T"/><use href="#b" x="1127" y="421" class="B"/><use href="#b" x="1127" y="440" class="V"/>
</g>
<g id="col-confusing">
<use href="#b" x="1168" y="382" class="T"/><use href="#b" x="1168" y="400" class="L"/><use href="#b" x="1168" y="418" class="G"/><use href="#b" x="1168" y="437" class="B"/><use href="#b" x="1168" y="455" class="B"/><use href="#b" x="1168" y="473" class="B"/><use href="#b" x="1168" y="491" class="V"/><use href="#b" x="1168" y="509" class="V"/>
<use href="#b" x="1186" y="382" class="T"/><use href="#b" x="1186" y="400" class="L"/><use href="#b" x="1186" y="418" class="G"/><use href="#b" x="1186" y="437" class="B"/><use href="#b" x="1186" y="455" class="B"/><use href="#b" x="1186" y="473" class="B"/><use href="#b" x="1186" y="491" class="V"/>
</g>
<g id="col-misc">
<use href="#b" x="1209" y="382" class="R"/><use href="#b" x="1209" y="400" class="V"/>
</g>
</g>

<text class="big" x="555" y="493" font-size="40" textLength="171" lengthAdjust="spacingAndGlyphs">Iteration 1</text>
</svg>
